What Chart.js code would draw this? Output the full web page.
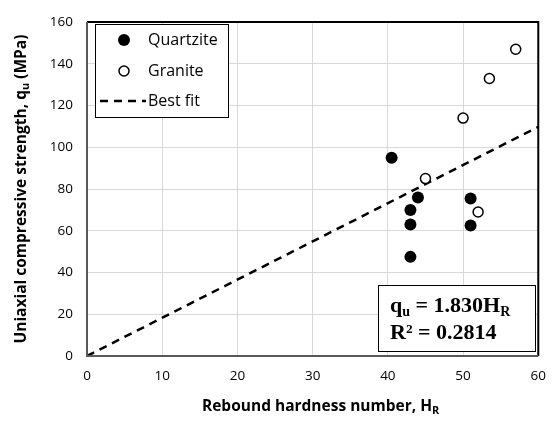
<!DOCTYPE html>
<html lang="en">
<head>
  <meta charset="UTF-8">
  <title>Rebound hardness vs UCS</title>
  <script src="https://cdn.jsdelivr.net/npm/chart.js"></script>
  <style>
    body { margin: 0; background: #fff; }
    #wrap { width: 558px; height: 426px; }
  </style>
</head>
<body>
  <div id="wrap"><canvas id="chart" width="558" height="426"></canvas></div>
  <script>
    // data
    const quartziteX = [40.5, 44, 43, 43, 43, 51, 51];
    const quartziteY = [95, 76, 70, 63, 47.5, 75.5, 62.5];
    const graniteX = [57, 53.5, 50, 45, 52];
    const graniteY = [147, 133, 114, 85, 69];
    const fitX = [0, 60];
    const fitY = [0, 109.8];
    const xTicks = [0, 10, 20, 30, 40, 50, 60];
    const yTicks = [0, 20, 40, 60, 80, 100, 120, 140, 160];

    const toPts = (xs, ys) => xs.map((x, i) => ({ x, y: ys[i] }));
    const tickFont = { family: '"Open Sans"', size: 13.5 };

    // text with a subscript part: [[text, sub?], ...]
    function drawRich(ctx, parts, x, y, font, subFont, align) {
      let w = 0;
      parts.forEach(p => { ctx.font = p[1] ? subFont : font; w += ctx.measureText(p[0]).width; });
      let cx = align === 'center' ? x - w / 2 : x;
      parts.forEach(p => {
        ctx.font = p[1] ? subFont : font;
        ctx.fillText(p[0], cx, p[1] ? y + 4 : y);
        cx += ctx.measureText(p[0]).width;
      });
    }

    const extras = {
      id: 'extras',
      afterDraw(chart) {
        const ctx = chart.ctx, a = chart.chartArea;
        ctx.save();
        // plot border
        ctx.strokeStyle = '#000';
        ctx.lineWidth = 2;
        ctx.beginPath();
        ctx.moveTo(a.left, a.top); ctx.lineTo(a.right, a.top); ctx.lineTo(a.right, a.bottom);
        ctx.stroke();
        ctx.strokeStyle = '#595959';
        ctx.beginPath();
        ctx.moveTo(a.left, a.top); ctx.lineTo(a.left, a.bottom); ctx.lineTo(a.right, a.bottom);
        ctx.stroke();

        // axis titles
        ctx.fillStyle = '#000';
        ctx.textBaseline = 'middle';
        drawRich(ctx, [['Rebound hardness number, H'], ['R', true]],
          (a.left + a.right) / 2 + 8, 407, 'bold 15.5px "Open Sans"', 'bold 11px "Open Sans"', 'center');
        ctx.save();
        ctx.translate(22, (a.top + a.bottom) / 2);
        ctx.rotate(-Math.PI / 2);
        drawRich(ctx, [['Uniaxial compressive strength, q'], ['u', true], [' (MPa)']],
          0, 0, 'bold 15.5px "Open Sans"', 'bold 11px "Open Sans"', 'center');
        ctx.restore();

        // legend box
        const ds = chart.data.datasets;
        ctx.fillStyle = '#fff';
        ctx.fillRect(95, 24, 133, 93);
        ctx.strokeStyle = '#000';
        ctx.lineWidth = 1;
        ctx.strokeRect(95.5, 24.5, 133, 93);
        ctx.font = '16px "Open Sans"';
        ctx.textBaseline = 'middle';
        ctx.fillStyle = '#000';
        const rows = [40, 71, 101];
        // quartzite
        ctx.beginPath(); ctx.arc(124, rows[0], 6, 0, Math.PI * 2); ctx.fill();
        ctx.fillText(ds[0].label, 148, rows[0]);
        // granite
        ctx.beginPath(); ctx.arc(124, rows[1], 5, 0, Math.PI * 2);
        ctx.fillStyle = '#fff'; ctx.fill(); ctx.lineWidth = 1.5; ctx.stroke();
        ctx.fillStyle = '#000';
        ctx.fillText(ds[1].label, 148, rows[1]);
        // fit
        ctx.lineWidth = 2.5; ctx.setLineDash([8, 6]);
        ctx.beginPath(); ctx.moveTo(100, rows[2]); ctx.lineTo(146, rows[2]); ctx.stroke();
        ctx.setLineDash([]);
        ctx.fillText(ds[2].label, 148, rows[2]);

        // equation box
        ctx.fillStyle = '#fff';
        ctx.fillRect(378, 285, 157, 67);
        ctx.lineWidth = 1;
        ctx.strokeRect(378.5, 285.5, 157, 66);
        ctx.fillStyle = '#000';
        ctx.textBaseline = 'alphabetic';
        drawRich(ctx, [['q'], ['u', true], [' = 1.830H'], ['R', true]], 390, 312,
          'bold 22px "Liberation Serif"', 'bold 14px "Liberation Serif"', 'left');
        drawRich(ctx, [['R\u00b2 = 0.2814']], 390, 339,
          'bold 22px "Liberation Serif"', 'bold 22px "Liberation Serif"', 'left');
        ctx.restore();
      }
    };

    new Chart(document.getElementById('chart'), {
      type: 'scatter',
      data: {
        datasets: [
          {
            label: 'Quartzite',
            data: toPts(quartziteX, quartziteY),
            backgroundColor: '#000',
            borderColor: '#000',
            pointRadius: 6,
            pointBorderWidth: 0
          },
          {
            label: 'Granite',
            data: toPts(graniteX, graniteY),
            backgroundColor: '#fff',
            borderColor: '#000',
            pointRadius: 5,
            pointBorderWidth: 1.5
          },
          {
            label: 'Best fit',
            type: 'line',
            data: toPts(fitX, fitY),
            borderColor: '#000',
            borderWidth: 2.5,
            borderDash: [8, 6],
            pointRadius: 0,
            fill: false
          }
        ]
      },
      options: {
        responsive: false,
        animation: false,
        layout: { padding: { top: 13, right: 14, left: 0, bottom: 0 } },
        plugins: { legend: { display: false }, tooltip: { enabled: false } },
        scales: {
          x: {
            type: 'linear',
            min: 0, max: 60,
            afterBuildTicks: s => { s.ticks = xTicks.map(v => ({ value: v })); },
            afterFit: s => { s.height = 70; },
            grid: { color: '#d9d9d9', lineWidth: 1, drawTicks: false },
            border: { display: false },
            ticks: { color: '#000', font: tickFont, padding: 12, maxRotation: 0 }
          },
          y: {
            min: 0, max: 160,
            afterBuildTicks: s => { s.ticks = yTicks.map(v => ({ value: v })); },
            afterFit: s => { s.width = 87; },
            grid: { color: '#d9d9d9', lineWidth: 1, drawTicks: false },
            border: { display: false },
            ticks: { color: '#000', font: tickFont, padding: 14 }
          }
        }
      },
      plugins: [extras]
    });
  </script>
</body>
</html>
